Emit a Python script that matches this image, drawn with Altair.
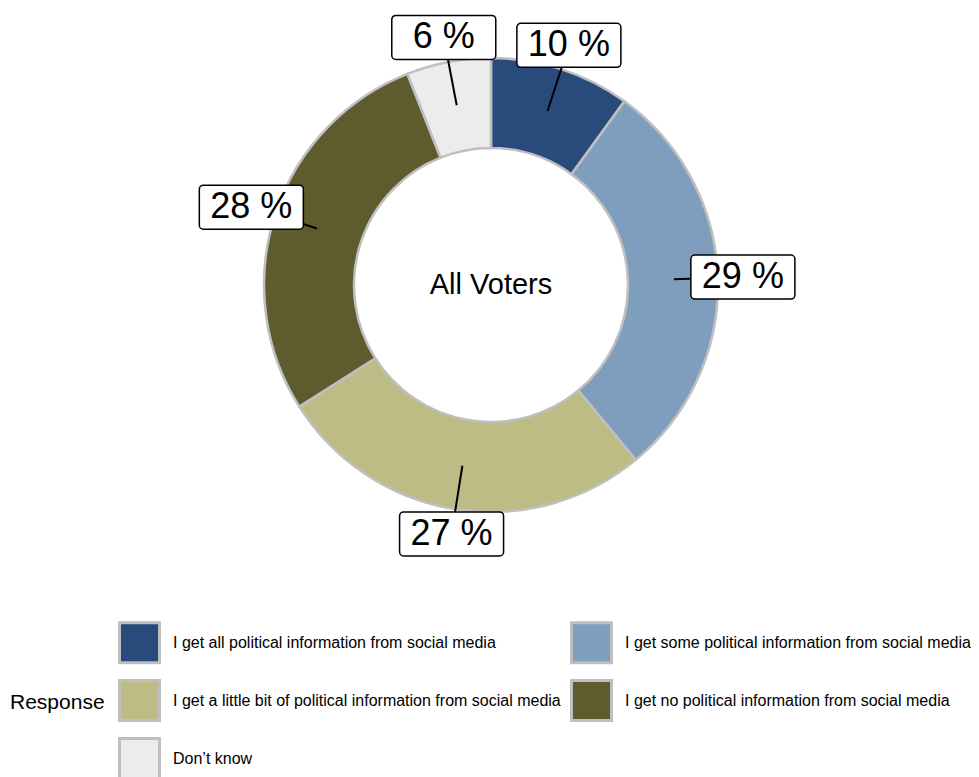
import altair as alt
import pandas as pd

RESPONSES = [
    "I get all political information from social media",
    "I get some political information from social media",
    "I get a little bit of political information from social media",
    "I get no political information from social media",
    "Don\u2019t know",
]
PERCENTS = [10, 29, 27, 28, 6]
COLORS = ["#294B7B", "#7F9EBE", "#BDBC85", "#5E5B2E", "#EBECEB"]
CENTER_LABEL = "All Voters"
LEGEND_TITLE = "Response"

FONT = "Liberation Sans"
OUTER_R = 227
INNER_R = 137
LEADER_R = 183
LABEL_R = 252
BOX_HW = 52
BOX_HH = 22

W, H = 900, 554

df = pd.DataFrame({"response": RESPONSES, "value": PERCENTS, "idx": list(range(len(RESPONSES)))})

xs = alt.Scale(domain=[-W / 2, W / 2], nice=False, zero=False)
ys = alt.Scale(domain=[-H / 2, H / 2], nice=False, zero=False)

ring = alt.Chart(df).mark_arc(
    outerRadius=OUTER_R, innerRadius=INNER_R, stroke="#BFBFBF", strokeWidth=2.5
).encode(
    theta=alt.Theta("value:Q", stack=True),
    order=alt.Order("idx:Q"),
    color=alt.Color(
        "response:N",
        scale=alt.Scale(domain=RESPONSES, range=COLORS),
        legend=alt.Legend(
            orient="none", legendX=-31, legendY=613, columns=2, direction="horizontal",
            title=LEGEND_TITLE, titleOrient="left", titleAnchor="middle",
            titleFontSize=21, titleFont=FONT, titleFontWeight="normal",
            titleColor="black", titlePadding=13,
            symbolType="square", symbolSize=1600, symbolStrokeColor="#BFBFBF",
            symbolStrokeWidth=3, symbolOpacity=1,
            labelFontSize=16, labelFont=FONT, labelColor="black",
            labelOffset=12, labelLimit=600, rowPadding=5, columnPadding=4,
        ),
    ),
)

lab = alt.Chart(df).transform_joinaggregate(
    total="sum(value)"
).transform_window(
    cum="sum(value)", sort=[alt.SortField("idx")], frame=[None, 0]
).transform_calculate(
    mid="2*PI*(datum.cum - datum.value/2)/datum.total",
).transform_calculate(
    lx=f"{LABEL_R}*sin(datum.mid)",
    ly=f"{LABEL_R}*cos(datum.mid)",
    sx=f"{LEADER_R}*sin(datum.mid)",
    sy=f"{LEADER_R}*cos(datum.mid)",
    label="datum.value + ' %'",
).transform_calculate(
    bx1=f"datum.lx - {BOX_HW}", bx2=f"datum.lx + {BOX_HW}",
    by1=f"datum.ly - {BOX_HH}", by2=f"datum.ly + {BOX_HH}",
)

leaders = lab.mark_rule(color="black", strokeWidth=2).encode(
    x=alt.X("sx:Q", scale=xs, axis=None),
    y=alt.Y("sy:Q", scale=ys, axis=None),
    x2="lx:Q",
    y2="ly:Q",
)

boxes = lab.mark_rect(fill="white", stroke="black", strokeWidth=1.5, cornerRadius=4).encode(
    x=alt.X("bx1:Q", scale=xs, axis=None),
    x2="bx2:Q",
    y=alt.Y("by1:Q", scale=ys, axis=None),
    y2="by2:Q",
)

texts = lab.mark_text(fontSize=36, font=FONT, color="black", baseline="middle", align="center").encode(
    x=alt.X("lx:Q", scale=xs, axis=None),
    y=alt.Y("ly:Q", scale=ys, axis=None),
    text="label:N",
)

center = alt.Chart(pd.DataFrame({"t": [CENTER_LABEL]})).mark_text(
    fontSize=29, font=FONT, color="black", baseline="middle", align="center"
).encode(
    x=alt.XDatum(0, scale=xs, axis=None),
    y=alt.YDatum(0, scale=ys, axis=None),
    text="t:N",
)

chart = alt.layer(ring, leaders, boxes, texts, center).properties(
    width=W, height=H,
    autosize=alt.AutoSizeParams(type="none"),
    padding={"left": 33, "top": 0, "right": 30, "bottom": 215},
).configure_view(stroke=None)

chart.save("out.html", embed_options={"renderer": "svg", "actions": False})
